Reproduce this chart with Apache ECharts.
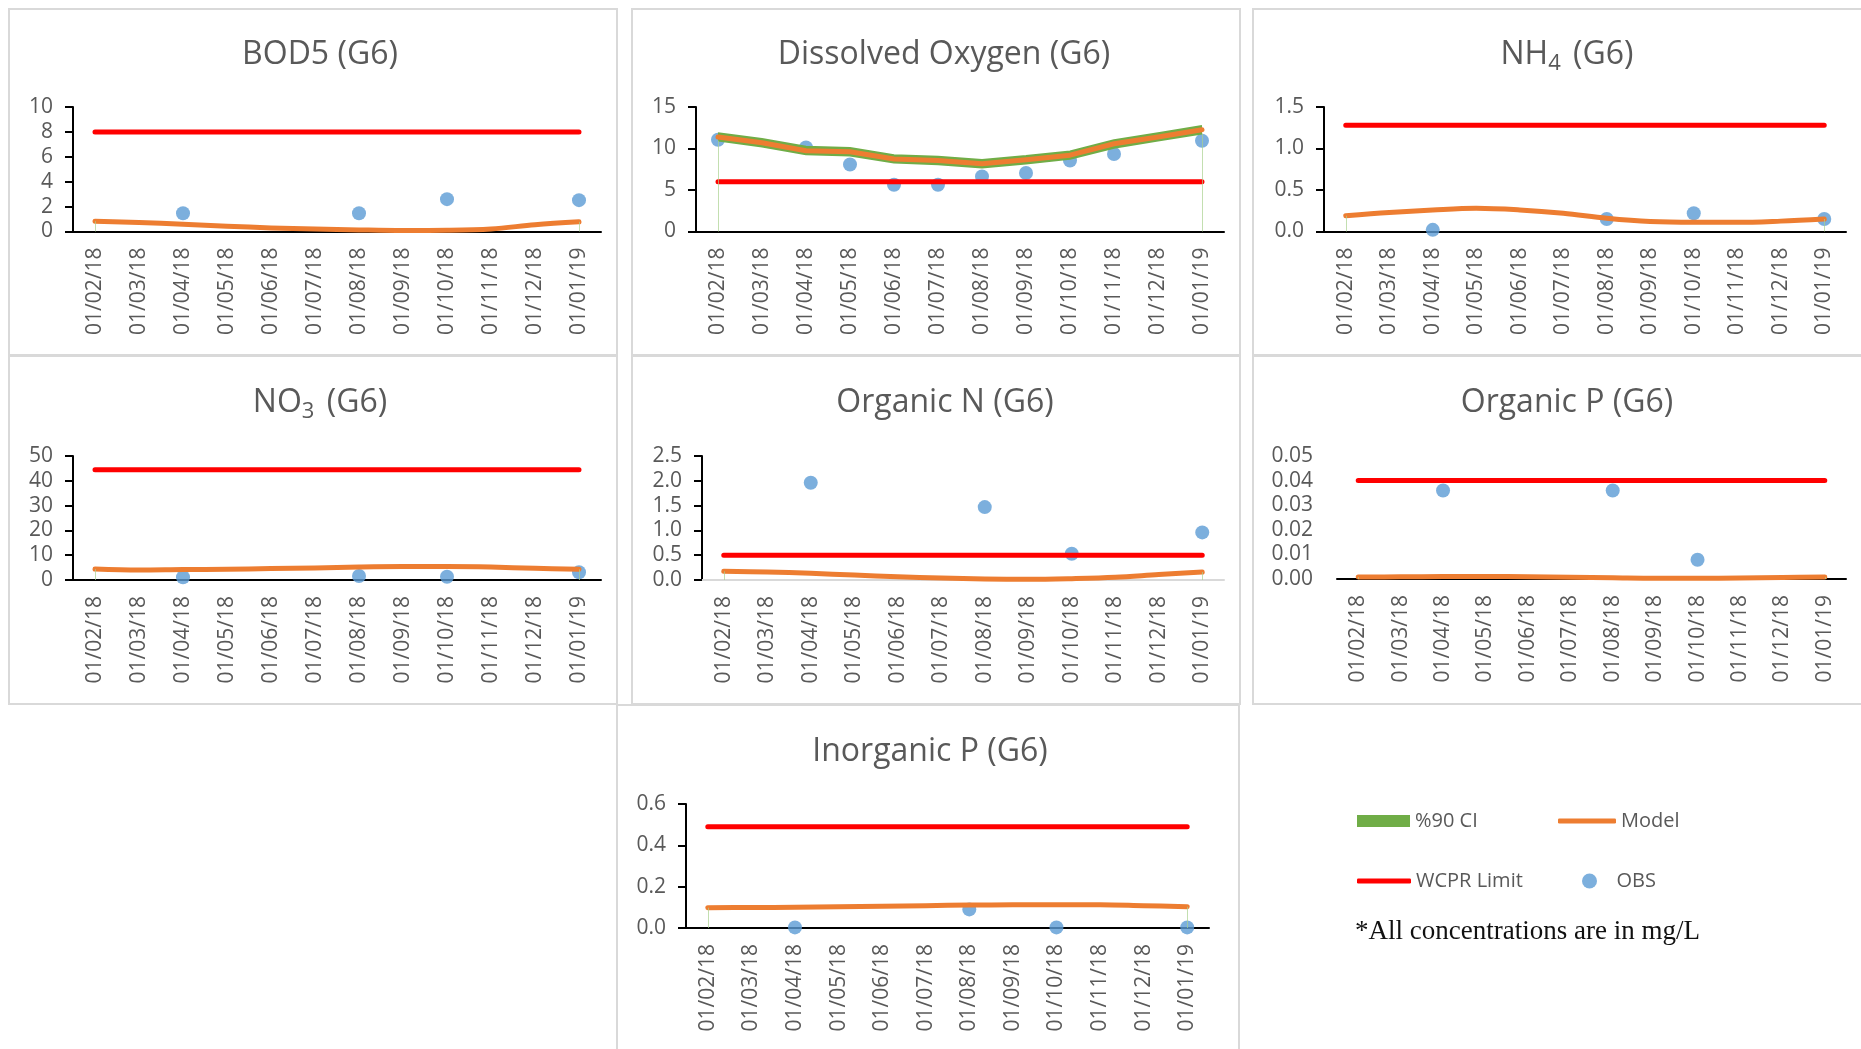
<!DOCTYPE html>
<html>
<head>
<meta charset="utf-8">
<title>G6 water quality</title>
<script src="https://cdn.jsdelivr.net/npm/echarts@6/dist/echarts.min.js"></script>
<style>
html, body { margin: 0; padding: 0; background: #fff; }
#main { width: 1861px; height: 1049px; }
</style>
</head>
<body>
<div id="main"></div>
<script>
var dates = ['01/02/18', '01/03/18', '01/04/18', '01/05/18', '01/06/18', '01/07/18',
             '01/08/18', '01/09/18', '01/10/18', '01/11/18', '01/12/18', '01/01/19'];

// BOD5
var bodModel = [0.83, 0.72, 0.59, 0.43, 0.29, 0.21, 0.13, 0.08, 0.1, 0.21, 0.54, 0.78];
var bodObs   = [null, null, 1.47, null, null, null, 1.47, null, 2.6, null, null, 2.52];
var bodLimit = [8, 8, 8, 8, 8, 8, 8, 8, 8, 8, 8, 8];

// Dissolved oxygen (with 90% CI)
var doModel = [11.38, 10.7, 9.73, 9.61, 8.73, 8.56, 8.16, 8.64, 9.2, 10.57, 11.38, 12.26];
var doUpper = [11.85, 11.15, 10.2, 10.05, 9.2, 9.0, 8.6, 9.1, 9.65, 11.0, 11.85, 12.7];
var doLower = [10.95, 10.25, 9.3, 9.15, 8.3, 8.1, 7.7, 8.2, 8.75, 10.1, 10.95, 11.8];
var doObs   = [11.06, null, 10.13, 8.08, 5.63, 5.63, 6.63, 7.04, 8.56, 9.33, null, 10.94];
var doLimit = [6, 6, 6, 6, 6, 6, 6, 6, 6, 6, 6, 6];

// NH4
var nh4Model = [0.19, 0.23, 0.26, 0.28, 0.26, 0.22, 0.16, 0.12, 0.11, 0.11, 0.125, 0.15];
var nh4Obs   = [null, null, 0.02, null, null, null, 0.15, null, 0.22, null, null, 0.15];
var nh4Limit = [1.28, 1.28, 1.28, 1.28, 1.28, 1.28, 1.28, 1.28, 1.28, 1.28, 1.28, 1.28];

// NO3
var no3Model = [4.4, 4.0, 4.2, 4.3, 4.6, 4.8, 5.2, 5.4, 5.4, 5.2, 4.7, 4.3];
var no3Obs   = [null, null, 1.1, null, null, null, 1.6, null, 1.3, null, null, 3.1];
var no3Limit = [44.5, 44.5, 44.5, 44.5, 44.5, 44.5, 44.5, 44.5, 44.5, 44.5, 44.5, 44.5];

// Organic N
var onModel = [0.175, 0.16, 0.135, 0.1, 0.067, 0.04, 0.02, 0.013, 0.027, 0.054, 0.11, 0.16];
var onObs   = [null, null, 1.96, null, null, null, 1.47, null, 0.53, null, null, 0.96];
var onLimit = [0.5, 0.5, 0.5, 0.5, 0.5, 0.5, 0.5, 0.5, 0.5, 0.5, 0.5, 0.5];

// Organic P
var opModel = [0.0008, 0.0009, 0.001, 0.001, 0.0009, 0.0007, 0.0005, 0.0003, 0.0003, 0.0004, 0.0006, 0.0008];
var opObs   = [null, null, 0.036, null, null, null, 0.036, null, 0.0078, null, null, null];
var opLimit = [0.04, 0.04, 0.04, 0.04, 0.04, 0.04, 0.04, 0.04, 0.04, 0.04, 0.04, 0.04];

// Inorganic P
var ipModel = [0.098, 0.099, 0.1, 0.103, 0.105, 0.108, 0.111, 0.112, 0.113, 0.113, 0.108, 0.103];
var ipObs   = [null, null, 0.003, null, null, null, 0.09, null, 0.003, null, null, 0.003];
var ipLimit = [0.49, 0.49, 0.49, 0.49, 0.49, 0.49, 0.49, 0.49, 0.49, 0.49, 0.49, 0.49];

var GREEN = '#70AD47', ORANGE = '#ED7D31', RED = '#FF0000', BLUE = '#5B9BD5', GREY = '#595959';
var FONT = 'Open Sans';

// layout of each small chart
var panels = [
    { title: '{m|BOD5 (G6)}', box: [9, 9, 608, 346], cx: 315, ty: 30, grid: [73, 107, 528, 124.5],
      max: 10, step: 2, dec: 0, model: bodModel, obs: bodObs, limit: bodLimit, smooth: true },
    { title: '{m|Dissolved Oxygen (G6)}', box: [632, 9, 608, 346], cx: 939, ty: 30, grid: [696, 107, 528, 124.5],
      max: 15, step: 5, dec: 0, model: doModel, obs: doObs, limit: doLimit, upper: doUpper, lower: doLower, smooth: false },
    { title: '{m|NH}{s|4}{m| (G6)}', box: [1253, 9, 612, 346], cx: 1562, ty: 30, grid: [1324, 107, 522, 124.5],
      max: 1.5, step: 0.5, dec: 1, model: nh4Model, obs: nh4Obs, limit: nh4Limit, smooth: true },
    { title: '{m|NO}{s|3}{m| (G6)}', box: [9, 356, 608, 348], cx: 315, ty: 378, grid: [73, 456, 528, 124],
      max: 50, step: 10, dec: 0, model: no3Model, obs: no3Obs, limit: no3Limit, smooth: true },
    { title: '{m|Organic N (G6)}', box: [632, 356, 608, 348], cx: 940, ty: 378, grid: [702, 456, 522, 124],
      max: 2.5, step: 0.5, dec: 1, model: onModel, obs: onObs, limit: onLimit, smooth: true, xColor: '#d9d9d9' },
    { title: '{m|Organic P (G6)}', box: [1253, 356, 612, 348], cx: 1562, ty: 378, grid: [1337, 456, 509, 123],
      max: 0.05, step: 0.01, dec: 2, model: opModel, obs: opObs, limit: opLimit, smooth: true, noYLine: true },
    { title: '{m|Inorganic P (G6)}', box: [617, 705, 622, 360], cx: 925, ty: 727, grid: [686, 804, 523, 124],
      max: 0.6, step: 0.2, dec: 1, model: ipModel, obs: ipObs, limit: ipLimit, smooth: true }
];

var grids = [], xAxes = [], yAxes = [], titles = [], series = [], graphics = [];

panels.forEach(function (p, i) {
    graphics.push({
        type: 'rect', silent: true, z: -10,
        shape: { x: p.box[0], y: p.box[1], width: p.box[2], height: p.box[3] },
        style: { fill: 'none', stroke: '#d9d9d9', lineWidth: 2 }
    });
    titles.push({
        text: p.title, left: p.cx, top: p.ty, textAlign: 'center',
        textStyle: {
            rich: {
                m: { fontFamily: FONT, fontSize: 32, fontWeight: 'normal', color: GREY, lineHeight: 40 },
                s: { fontFamily: FONT, fontSize: 22, fontWeight: 'normal', color: GREY, lineHeight: 12,
                     verticalAlign: 'bottom', padding: [0, 4, 0, 0] }
            }
        }
    });
    grids.push({ left: p.grid[0], top: p.grid[1], width: p.grid[2], height: p.grid[3], outerBoundsMode: 'none' });
    var xc = p.xColor || '#000';
    xAxes.push({
        type: 'category', gridIndex: i, data: dates,
        axisLine: { lineStyle: { color: xc, width: 2 } },
        axisTick: { length: 8, interval: 0, lineStyle: { color: xc, width: 2 } },
        axisLabel: { rotate: 90, margin: 16, interval: 0, color: GREY, fontSize: 21, fontFamily: FONT },
        splitLine: { show: false }
    });
    yAxes.push({
        type: 'value', gridIndex: i, min: 0, max: p.max, interval: p.step,
        axisLine: { show: !p.noYLine, lineStyle: { color: '#000', width: 2 } },
        axisTick: { show: !p.noYLine, length: 8, lineStyle: { color: '#000', width: 2 } },
        axisLabel: {
            margin: p.noYLine ? 24 : 20, color: GREY, fontSize: 21, fontFamily: FONT,
            formatter: (function (d) { return function (v) { return v.toFixed(d); }; })(p.dec)
        },
        splitLine: { show: false }
    });

    // faint green edges of the CI area at the first and last date
    var base = p.lower || p.model;
    var edges = {
        silent: true, symbol: ['none', 'none'], label: { show: false },
        lineStyle: { color: '#a9d18e', width: 1, type: 'solid', opacity: 0.7 },
        data: [
            [{ coord: [dates[0], 0] }, { coord: [dates[0], base[0]] }],
            [{ coord: [dates[11], 0] }, { coord: [dates[11], base[11]] }]
        ]
    };

    if (p.upper) {
        series.push({
            name: 'CI lower', type: 'line', xAxisIndex: i, yAxisIndex: i, stack: 'ci' + i,
            data: p.lower, symbol: 'none', lineStyle: { color: GREEN, width: 2 }, markLine: edges
        });
        series.push({
            name: '%90 CI', type: 'line', xAxisIndex: i, yAxisIndex: i, stack: 'ci' + i,
            data: p.upper.map(function (u, k) { return +(u - p.lower[k]).toFixed(3); }),
            symbol: 'none', color: GREEN, lineStyle: { color: GREEN, width: 2 },
            areaStyle: { color: GREEN, opacity: 1 }
        });
    }
    series.push({
        name: 'Model', type: 'line', xAxisIndex: i, yAxisIndex: i, data: p.model,
        symbol: 'none', smooth: p.smooth ? 0.35 : false, color: ORANGE,
        lineStyle: { color: ORANGE, width: 5, cap: 'round', join: 'round' },
        markLine: p.upper ? undefined : edges
    });
    series.push({
        name: 'WCPR Limit', type: 'line', xAxisIndex: i, yAxisIndex: i, data: p.limit,
        symbol: 'none', color: RED, lineStyle: { color: RED, width: 5, cap: 'round' }
    });
    series.push({
        name: 'OBS', type: 'scatter', xAxisIndex: i, yAxisIndex: i, data: p.obs,
        symbol: 'circle', symbolSize: 14, color: BLUE, itemStyle: { color: BLUE }
    });
});

function legendItem(name, left, top, icon, w, h) {
    return {
        left: left, top: top, padding: 0, selectedMode: false, itemGap: 0,
        itemWidth: w, itemHeight: h,
        data: [{ name: name, icon: icon }],
        textStyle: { color: GREY, fontSize: 20, fontFamily: FONT }
    };
}

graphics.push({
    type: 'text', left: 1355, top: 918, silent: true,
    style: { text: '*All concentrations are in mg/L', font: '27px "Liberation Serif"', fill: '#111' }
});

var myChart = echarts.init(document.getElementById('main'), null, { renderer: 'canvas' });
var option = {
    backgroundColor: '#fff',
    animation: false,
    title: titles,
    grid: grids,
    xAxis: xAxes,
    yAxis: yAxes,
    legend: [
        legendItem('%90 CI', 1357, 811, 'rect', 53, 12),
        legendItem('Model', 1558, 811, 'roundRect', 58, 5),
        legendItem('WCPR Limit', 1357, 871, 'roundRect', 54, 5),
        legendItem('OBS', 1582, 871, 'circle', 44, 15)
    ],
    graphic: graphics,
    series: series
};
myChart.setOption(option);
</script>
</body>
</html>
